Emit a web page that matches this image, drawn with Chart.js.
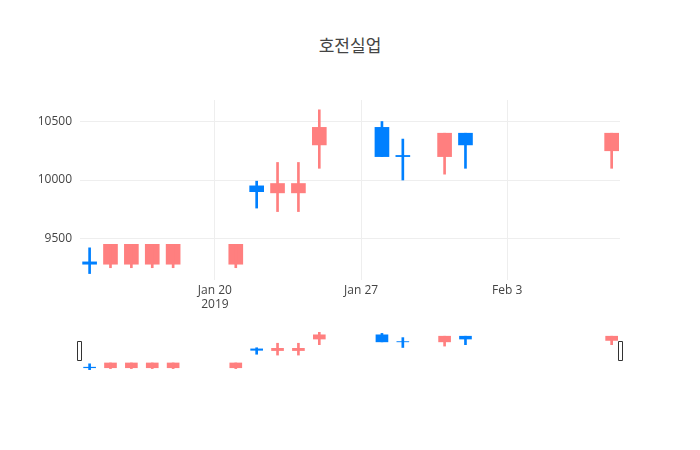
<!DOCTYPE html>
<html><head><meta charset="utf-8">
<script src="https://cdn.jsdelivr.net/npm/chart.js@4"></script>
<style>
body{margin:0;background:#fff;width:700px;height:450px;position:relative;overflow:hidden}
#title{position:absolute;top:32px;left:0;width:700px;text-align:center;font:17px "Noto Sans CJK KR";color:#444}
#main{position:absolute;left:0;top:0}
#nav{position:absolute;left:0;top:330px}
</style></head><body>
<div id="title">호전실업</div>
<canvas id="main" width="700" height="320"></canvas>
<canvas id="nav" width="700" height="45"></canvas>
<script>
// day offsets from Jan 20 2019
var days = [-6, -5, -4, -3, -2, 1, 2, 3, 4, 5, 8, 9, 11, 12, 19];
var open  = [9280, 9450, 9450, 9450, 9450, 9450, 9900, 9970, 9970, 10450, 10200, 10200, 10400, 10300, 10400];
var close = [9300, 9280, 9280, 9280, 9280, 9280, 9950, 9890, 9890, 10300, 10450, 10210, 10200, 10400, 10250];
var high  = [9420, 9450, 9450, 9450, 9450, 9450, 9990, 10150, 10150, 10600, 10500, 10350, 10400, 10400, 10400];
var low   = [9200, 9250, 9250, 9250, 9250, 9250, 9760, 9730, 9730, 10100, 10200, 10000, 10050, 10100, 10100];
var tickDays = [0, 7, 14];
var tickLabels = [['Jan 20', '2019'], 'Jan 27', 'Feb 3'];
var yTicks = [9500, 10000, 10500];

var UP = '#0080ff', DOWN = '#ff7f7f';
var colors = days.map(function (d, i) { return close[i] >= open[i] ? UP : DOWN; });
var wicks = days.map(function (d, i) { return {x: d, y: [low[i], high[i]]}; });
var bodies = days.map(function (d, i) { return {x: d, y: [open[i], close[i]]}; });

function datasets(bw, ww) {
  return [
    {data: wicks, backgroundColor: colors, barThickness: ww, grouped: false},
    {data: bodies, backgroundColor: colors, barThickness: bw, grouped: false}
  ];
}
var font = {family: '"Open Sans"', size: 12};

new Chart(document.getElementById('main'), {
  type: 'bar',
  data: {datasets: datasets(14, 2)},
  options: {
    responsive: false, animation: false,
    layout: {padding: {top: 100, right: 80, left: 5}},
    plugins: {legend: {display: false}, tooltip: {enabled: false}},
    scales: {
      x: {
        type: 'linear', min: -6.46, max: 19.4, offset: false,
        afterBuildTicks: function (s) { s.ticks = tickDays.map(function (v) { return {value: v}; }); },
        afterFit: function (s) { s.height = 40; },
        ticks: {font: font, color: '#444', callback: function (v) { return tickLabels[tickDays.indexOf(v)]; }},
        grid: {color: '#eee', drawTicks: false, offset: false}, border: {display: false}
      },
      y: {
        min: 9145, max: 10684,
        afterBuildTicks: function (s) { s.ticks = yTicks.map(function (v) { return {value: v}; }); },
        afterFit: function (s) { s.width = 75; },
        ticks: {font: font, color: '#444', padding: 8, callback: function (v) { return String(v); }},
        grid: {color: '#eee', drawTicks: false}, border: {display: false}
      }
    }
  }
});

var handles = {
  id: 'handles',
  afterDraw: function (c) {
    var a = c.chartArea, ctx = c.ctx;
    ctx.fillStyle = '#fff'; ctx.strokeStyle = '#333'; ctx.lineWidth = 1;
    [a.left - 3, a.right - 2].forEach(function (x) {
      ctx.beginPath(); ctx.rect(x + 0.5, 11.5, 4, 19); ctx.fill(); ctx.stroke();
    });
  }
};
new Chart(document.getElementById('nav'), {
  type: 'bar',
  data: {datasets: datasets(12, 2)},
  plugins: [handles],
  options: {
    responsive: false, animation: false,
    layout: {padding: {left: 80, right: 80, top: 2, bottom: 5}},
    plugins: {legend: {display: false}, tooltip: {enabled: false}},
    scales: {
      x: {type: 'linear', min: -6.46, max: 19.4, offset: false, display: false},
      y: {min: 9200, max: 10550, display: false}
    }
  }
});
</script>
</body></html>
